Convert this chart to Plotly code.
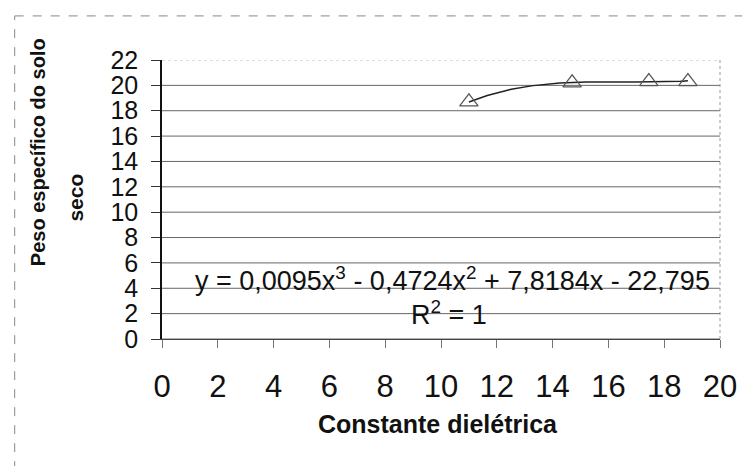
import numpy as np
import plotly.graph_objects as go

# Measured points: dielectric constant vs dry unit weight of soil
constante = [11.0, 14.7, 17.45, 18.85]
peso = [18.7, 20.2, 20.3, 20.3]

# Cubic trendline coefficients (highest power first), as printed on the chart
coef = [0.0095, -0.4724, 7.8184, -22.795]
equacao = "y = 0,0095x<sup>3</sup> - 0,4724x<sup>2</sup> + 7,8184x - 22,795"
r2_texto = "R<sup>2</sup> = 1"

x_ticks = list(range(0, 21, 2))
y_ticks = list(range(0, 23, 2))

FONT = "Liberation Sans, Arial, sans-serif"

xs = np.linspace(min(constante), max(constante), 120)
ys = np.polyval(coef, xs)

fig = go.Figure()

fig.add_trace(go.Scatter(
    x=xs, y=ys, mode="lines",
    line=dict(color="#222222", width=1.5),
    hoverinfo="skip", showlegend=False,
))
fig.add_trace(go.Scatter(
    x=constante, y=peso, mode="markers",
    marker=dict(symbol="triangle-up-open", size=16,
                color="#555555", line=dict(width=1.2, color="#555555")),
    showlegend=False,
))

shapes = []
# horizontal gridlines
for v in y_ticks:
    top = v == y_ticks[-1]
    shapes.append(dict(
        type="line", xref="paper", yref="y", x0=0, x1=1, y0=v, y1=v,
        line=dict(color="#bbbbbb" if top else "#666666",
                  width=1, dash="dot" if top else "solid"),
        layer="below",
    ))
# right edge of the plot area
shapes.append(dict(type="line", xref="paper", yref="paper", x0=1, x1=1, y0=0, y1=1,
                   line=dict(color="#999999", width=1, dash="dot")))
# outer chart border (left and top)
shapes.append(dict(type="line", xref="paper", yref="paper",
                   x0=-0.264, x1=-0.264, y0=-0.47, y1=1.158,
                   line=dict(color="#888888", width=1, dash="dash")))
shapes.append(dict(type="line", xref="paper", yref="paper",
                   x0=-0.264, x1=1.04, y0=1.158, y1=1.158,
                   line=dict(color="#888888", width=1, dash="dash")))

annotations = [
    dict(x=10.4, y=4.77, xref="x", yref="y", text=equacao, showarrow=False,
         xanchor="center", yanchor="middle",
         font=dict(family=FONT, size=27, color="#111111")),
    dict(x=10.3, y=2.05, xref="x", yref="y", text=r2_texto, showarrow=False,
         xanchor="center", yanchor="middle",
         font=dict(family=FONT, size=27, color="#111111")),
    dict(x=0.495, y=-0.305, xref="paper", yref="paper", text="<b>Constante dielétrica</b>",
         showarrow=False, xanchor="center", yanchor="middle",
         font=dict(family=FONT, size=25, color="#111111")),
    dict(x=-0.223, y=0.668, xref="paper", yref="paper", text="<b>Peso específico do solo</b>",
         showarrow=False, xanchor="center", yanchor="middle", textangle=-90,
         font=dict(family=FONT, size=20, color="#111111")),
    dict(x=-0.155, y=0.505, xref="paper", yref="paper", text="<b>seco</b>",
         showarrow=False, xanchor="center", yanchor="middle", textangle=-90,
         font=dict(family=FONT, size=21, color="#111111")),
]

fig.update_layout(
    width=749, height=466,
    margin=dict(l=162, r=18, t=60, b=127),
    paper_bgcolor="white", plot_bgcolor="white",
    shapes=shapes, annotations=annotations,
    showlegend=False,
)
fig.update_xaxes(
    range=[0, 20], tickvals=x_ticks, ticktext=[str(v) for v in x_ticks],
    showgrid=False, zeroline=False,
    showline=True, linecolor="#444444", linewidth=1,
    ticks="outside", ticklen=8, tickcolor="#777777",
    tickfont=dict(family=FONT, size=31, color="#111111"),
    ticklabelstandoff=12,
)
fig.update_yaxes(
    range=[0, 22], tickvals=y_ticks, ticktext=[str(v) for v in y_ticks],
    showgrid=False, zeroline=False,
    showline=True, linecolor="#111111", linewidth=1.5,
    ticks="outside", ticklen=9, tickcolor="#333333",
    tickfont=dict(family=FONT, size=25, color="#111111"),
    ticklabelstandoff=8,
)

fig.write_html("out.html")
